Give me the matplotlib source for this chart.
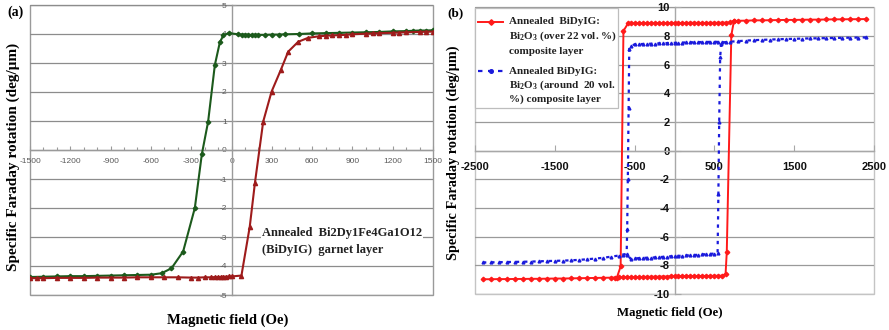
import matplotlib
matplotlib.use("Agg")
import matplotlib.pyplot as plt
from matplotlib.patches import Rectangle
from matplotlib.lines import Line2D
from matplotlib.ticker import MultipleLocator

plt.rcParams['axes.unicode_minus'] = False
plt.rcParams['mathtext.fontset'] = 'custom'
plt.rcParams['mathtext.rm'] = 'Liberation Serif:bold'
plt.rcParams['mathtext.it'] = 'Liberation Serif:bold'
plt.rcParams['mathtext.bf'] = 'Liberation Serif:bold'

# ---------------- Panel (a) data ----------------
a_green_x = [1500, 1450, 1400, 1350, 1300, 1200, 1100, 1000, 900, 800, 700, 600, 500, 400,
             350, 300, 250, 200, 175, 150, 125, 100, 75, 50,
             -20, -60, -87, -124, -174, -221, -273, -360, -447, -521,
             -600, -700, -800, -900, -1000, -1100, -1200, -1300, -1400, -1500]
a_green_y = [4.13, 4.12, 4.12, 4.11, 4.10, 4.09, 4.07, 4.06, 4.05, 4.04, 4.03, 4.02, 4.00, 3.99,
             3.98, 3.98, 3.97, 3.97, 3.97, 3.97, 3.97, 3.98, 3.98, 3.99,
             4.03, 3.96, 3.71, 2.93, 0.98, -0.15, -2.0, -3.5, -4.08, -4.25,
             -4.30, -4.31, -4.32, -4.33, -4.34, -4.35, -4.35, -4.36, -4.37, -4.38]
a_red_x = [-1500, -1450, -1400, -1300, -1200, -1100, -1000, -900, -800, -700, -600, -500, -400, -300,
           -250, -200, -150, -120, -100, -80, -60, -40, -20, 0,
           74, 136, 174, 236, 298, 367, 422, 496, 571,
           650, 700, 750, 800, 850, 900, 1000, 1050, 1100, 1200, 1250, 1300, 1400, 1450, 1500]
a_red_y = [-4.42, -4.42, -4.42, -4.41, -4.41, -4.41, -4.40, -4.40, -4.40, -4.39, -4.39, -4.39, -4.39, -4.40,
           -4.40, -4.39, -4.39, -4.38, -4.38, -4.38, -4.37, -4.37, -4.36, -4.36,
           -4.33, -2.64, -1.15, 0.98, 2.01, 2.76, 3.39, 3.73, 3.87,
           3.92, 3.94, 3.95, 3.96, 3.97, 3.99, 4.01, 4.02, 4.03, 4.04, 4.05, 4.06, 4.07, 4.08, 4.08]
a_xticks = [-1500, -1200, -900, -600, -300, 0, 300, 600, 900, 1200, 1500]
a_yticks = [-5, -4, -3, -2, -1, 0, 1, 2, 3, 4, 5]

# ---------------- Panel (b) data ----------------
b_red_up_x = [2400, 2300, 2200, 2100, 2000, 1900, 1800, 1700, 1600, 1500, 1400, 1300, 1200, 1100, 1000, 900, 800, 750,
              700, 650, 600, 550, 500, 450, 400, 350, 300, 250, 200, 150, 100, 50, 0,
              -50, -100, -150, -200, -250, -300, -350, -400, -450, -500, -550,
              -580, -640, -675, -725]
b_red_up_y = [9.18, 9.17, 9.17, 9.16, 9.16, 9.15, 9.14, 9.14, 9.13, 9.12, 9.12, 9.11, 9.10, 9.09, 9.09, 9.07, 9.06, 9.04,
              8.94, 8.93, 8.93, 8.92, 8.92, 8.92, 8.91, 8.91, 8.91, 8.92, 8.92, 8.91, 8.91, 8.90, 8.91,
              8.90, 8.90, 8.90, 8.89, 8.90, 8.89, 8.89, 8.90, 8.89, 8.88, 8.88,
              8.90, 8.35, -8.08, -8.90]
b_red_lo_x = [-2400, -2300, -2200, -2100, -2000, -1900, -1800, -1700, -1600, -1500, -1400, -1300, -1200, -1100, -1000, -900, -800,
              -750, -700, -650, -600, -550, -500, -450, -400, -350, -300, -250, -200, -150, -100, -50, 0,
              50, 100, 150, 200, 250, 300, 350, 400, 450, 500, 550, 600,
              640, 655, 712, 745]
b_red_lo_y = [-8.97, -8.97, -8.96, -8.96, -8.95, -8.95, -8.94, -8.94, -8.93, -8.92, -8.92, -8.91, -8.90, -8.89, -8.88, -8.87, -8.86,
              -8.85, -8.84, -8.83, -8.83, -8.82, -8.82, -8.81, -8.81, -8.80, -8.80, -8.79, -8.79, -8.78, -8.78, -8.77, -8.77,
              -8.77, -8.76, -8.76, -8.75, -8.75, -8.75, -8.74, -8.74, -8.74, -8.73, -8.73, -8.72,
              -8.6, -7.08, 8.05, 9.05]
b_blue_up_x = [2400, 2300, 2200, 2100, 2000, 1900, 1800, 1700, 1600, 1500, 1400, 1300, 1200, 1100, 1000, 900, 800, 700,
               650, 600, 550, 500, 450, 400, 350, 300, 250, 200, 150, 100, 50, 0,
               -50, -100, -150, -200, -250, -300, -350, -400, -450, -500,
               -540, -567, -575, -585, -593, -600]
b_blue_up_y = [7.90, 7.89, 7.88, 7.87, 7.86, 7.85, 7.84, 7.83, 7.82, 7.80, 7.79, 7.77, 7.75, 7.73, 7.71, 7.68, 7.64, 7.60,
               7.57, 7.56, 7.58, 7.60, 7.59, 7.58, 7.58, 7.57, 7.56, 7.56, 7.55, 7.54, 7.53, 7.52,
               7.51, 7.50, 7.49, 7.48, 7.47, 7.46, 7.45, 7.44, 7.43, 7.42,
               7.30, 7.12, 3.0, -2.0, -5.5, -7.3]
b_blue_lo_x = [-2400, -2300, -2200, -2100, -2000, -1900, -1800, -1700, -1600, -1500, -1400, -1300, -1200, -1100, -1000, -900, -800, -700,
               -650, -600,
               -550, -500, -450, -400, -350, -300, -250, -200, -150, -100, -50, 0,
               50, 100, 150, 200, 250, 300, 350, 400, 450, 500,
               540, 550, 560, 572, 585]
b_blue_lo_y = [-7.80, -7.79, -7.78, -7.77, -7.76, -7.75, -7.74, -7.72, -7.70, -7.69, -7.67, -7.65, -7.62, -7.58, -7.53, -7.48, -7.40, -7.32,
               -7.25, -7.20,
               -7.55, -7.52, -7.50, -7.49, -7.47, -7.46, -7.45, -7.43, -7.41, -7.39, -7.37, -7.35,
               -7.34, -7.33, -7.31, -7.30, -7.28, -7.26, -7.24, -7.22, -7.20, -7.18,
               -7.15, -3.0, 2.0, 6.5, 7.45]
b_xticks = [-2500, -1500, -500, 500, 1500, 2500]
b_yticks = [-10, -8, -6, -4, -2, 0, 2, 4, 6, 8, 10]

legend_red = ["Annealed  BiDyIG:", "Bi$_2$O$_3$ (over 22 vol. %)", "composite layer"]
legend_blue = ["Annealed BiDyIG:", "Bi$_2$O$_3$ (around  20 vol.", "%) composite layer"]

SERIF = 'Liberation Serif'
SANS = 'Liberation Sans'
W, H = 889, 330

def fx(px):
    return px / W

def fy(py):
    return 1 - py / H

fig = plt.figure(figsize=(W / 100, H / 100), dpi=100)
FT = fig.transFigure

# ================= Panel (a) =================
axa = fig.add_axes([fx(30), fy(295), (433 - 30) / W, (295 - 5) / H])
axa.set_xlim(-1500, 1500)
axa.set_ylim(-5, 5)
for s in ['top', 'right']:
    axa.spines[s].set_visible(False)
axa.spines['left'].set_position(('data', 0))
axa.spines['bottom'].set_position(('data', 0))
for s in ['left', 'bottom']:
    axa.spines[s].set_color('#9a9a9a')
    axa.spines[s].set_linewidth(1.0)
axa.add_patch(Rectangle((0, 0), 1, 1, transform=axa.transAxes, fill=False,
                        ec='#9a9a9a', lw=1.0, clip_on=False, zorder=0.5))
axa.set_xticks(a_xticks)
axa.set_yticks(a_yticks)
axa.xaxis.set_minor_locator(MultipleLocator(100))
axa.yaxis.grid(True, color='#8c8c8c', lw=0.9)
axa.set_axisbelow(True)
axa.tick_params(axis='both', which='both', labelsize=6, labelcolor='#5a5a5a',
                color='#9a9a9a', direction='in', length=3, width=0.8)
axa.tick_params(axis='x', which='major', pad=6)
axa.tick_params(axis='x', which='minor', length=2)
for lab in axa.get_xticklabels() + axa.get_yticklabels():
    lab.set_family(SANS)

axa.plot(a_green_x, a_green_y, color='#1c5a1c', lw=1.5, marker='D', ms=2.3,
         mfc='#1c5a1c', mec='#1c5a1c', zorder=3)
axa.plot(a_red_x, a_red_y, color='#9e1b1b', lw=1.5, marker='^', ms=3.0,
         mfc='#9e1b1b', mec='#9e1b1b', zorder=3)

axa.text(fx(262), fy(233), "Annealed  Bi2Dy1Fe4Ga1O12", transform=FT, family=SERIF, weight='bold',
         fontsize=9, ha='left', va='center', color='#222222', zorder=8,
         bbox=dict(fc='white', ec='none', pad=0.5))
axa.text(fx(262), fy(250), "(BiDyIG)  garnet layer", transform=FT, family=SERIF, weight='bold',
         fontsize=9, ha='left', va='center', color='#222222', zorder=8)

fig.text(fx(16), fy(12), "(a)", family=SERIF, weight='bold', fontsize=10,
         ha='center', va='center')
fig.text(fx(13), fy(157), "Specific Faraday rotation (deg/\u03bcm)", family=SERIF,
         weight='bold', fontsize=11, rotation=90, ha='center', va='center')
fig.text(fx(228), fy(320), "Magnetic field (Oe)", family=SERIF, weight='bold',
         fontsize=10.5, ha='center', va='center')

# ================= Panel (b) =================
axb = fig.add_axes([fx(475), fy(294), (874 - 475) / W, (294 - 7.3) / H])
axb.set_xlim(-2500, 2500)
axb.set_ylim(-10, 10)
for s in ['top', 'right']:
    axb.spines[s].set_visible(False)
axb.spines['left'].set_position(('data', 0))
axb.spines['bottom'].set_position(('data', 0))
for s in ['left', 'bottom']:
    axb.spines[s].set_color('#a8a8a8')
    axb.spines[s].set_linewidth(1.0)
axb.add_patch(Rectangle((0, 0), 1, 1, transform=axb.transAxes, fill=False,
                        ec='#c4c4c4', lw=1.0, clip_on=False, zorder=0.5))
axb.set_xticks(b_xticks)
axb.set_yticks(b_yticks)
axb.yaxis.grid(True, color='#9a9a9a', lw=0.9)
axb.set_axisbelow(True)
axb.tick_params(axis='both', labelsize=8, labelcolor='#111111', color='#a8a8a8',
                direction='in', length=4, width=0.8)
axb.tick_params(axis='x', pad=8)
for lab in axb.get_xticklabels() + axb.get_yticklabels():
    lab.set_family(SANS)
    lab.set_weight('bold')

red = '#ff1a1a'
blue = '#1a1adc'
axb.plot(b_red_up_x, b_red_up_y, color=red, lw=1.4, marker='D', ms=2.3,
         mfc=red, mec=red, zorder=3)
axb.plot(b_red_lo_x, b_red_lo_y, color=red, lw=1.4, marker='D', ms=2.3,
         mfc=red, mec=red, zorder=3)
axb.plot(b_blue_up_x, b_blue_up_y, color=blue, lw=1.6, ls=(0, (1.5, 2.2)), marker='^', ms=2.0,
         mfc=blue, mec=blue, zorder=3)
axb.plot(b_blue_lo_x, b_blue_lo_y, color=blue, lw=1.6, ls=(0, (1.5, 2.2)), marker='^', ms=2.0,
         mfc=blue, mec=blue, zorder=3)

# legend box (manual, drawn on top of the gridlines)
axb.add_patch(Rectangle((fx(475), fy(108)), (618 - 475) / W, (108 - 8) / H,
                        transform=FT, fc='white', ec='#bdbdbd', lw=0.9,
                        zorder=10, clip_on=False))
axb.add_line(Line2D([fx(478), fx(490.5), fx(503)], [fy(22)] * 3, transform=FT,
                    color=red, lw=1.4, marker='D', ms=2.8, markevery=[1],
                    zorder=11, clip_on=False))
axb.add_line(Line2D([fx(478), fx(490.5), fx(503)], [fy(71)] * 3, transform=FT,
                    color=blue, lw=1.6, ls=(0, (2, 2.5)), marker='o', ms=2.6,
                    markevery=[1], zorder=11, clip_on=False))
for i, t in enumerate(legend_red):
    axb.text(fx(509), fy(22 + 14.5 * i), t, transform=FT, family=SERIF, weight='bold',
             fontsize=8, ha='left', va='center', color='#222222', zorder=12)
for i, t in enumerate(legend_blue):
    axb.text(fx(509), fy(71 + 14.2 * i), t, transform=FT, family=SERIF, weight='bold',
             fontsize=8, ha='left', va='center', color='#222222', zorder=12)

fig.text(fx(456), fy(13), "(b)", family=SERIF, weight='bold', fontsize=9.5,
         ha='center', va='center')
fig.text(fx(453), fy(153), "Specific Faraday rotation (deg/\u03bcm)", family=SERIF,
         weight='bold', fontsize=10.3, rotation=90, ha='center', va='center')
fig.text(fx(670), fy(313), "Magnetic field (Oe)", family=SERIF, weight='bold',
         fontsize=9.2, ha='center', va='center')

fig.savefig("out.png", dpi=100, facecolor='white')
